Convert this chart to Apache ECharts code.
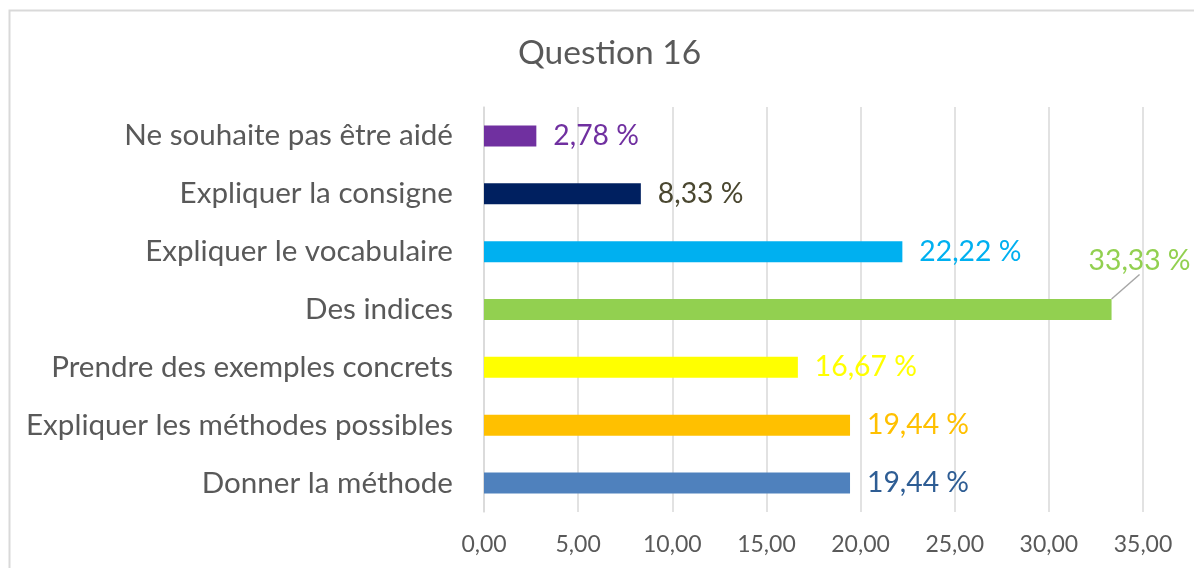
<!DOCTYPE html>
<html>
<head>
<meta charset="utf-8">
<script src="https://cdn.jsdelivr.net/npm/echarts@6/dist/echarts.min.js"></script>
<style>
html,body{margin:0;padding:0;background:#fff;}
#chart{width:1194px;height:568px;}
</style>
</head>
<body>
<div id="chart"></div>
<script>
var titleText = 'Question 16';
var categories = [
  'Ne souhaite pas être aidé',
  'Expliquer la consigne',
  'Expliquer le vocabulaire',
  'Des indices',
  'Prendre des exemples concrets',
  'Expliquer les méthodes possibles',
  'Donner la méthode'
];
var values = [2.78, 8.33, 22.22, 33.33, 16.67, 19.44, 19.44];
var barColors = ['#7030A0', '#002060', '#00B0F0', '#92D050', '#FFFF00', '#FFC000', '#4F81BD'];
var labelColors = ['#7030A0', '#4A4730', '#00B0F0', '#92D050', '#FFFF00', '#FFC000', '#2E5D94'];
var xTicks = [0, 5, 10, 15, 20, 25, 30, 35];
var movedLabelIndex = 3;

var FONT = 'Lato';
function fmt(v){ return v.toFixed(2).replace('.', ','); }

var chart = echarts.init(document.getElementById('chart'), null, {renderer: 'canvas'});
chart.setOption({
  animation: false,
  backgroundColor: '#ffffff',
  graphic: [{
    type: 'rect', left: 7, top: 8, z: -1,
    shape: {x: 0, y: 0, width: 1200, height: 600},
    style: {fill: 'none', stroke: '#d9d9d9', lineWidth: 2}
  }],
  title: {
    text: titleText, left: 513, top: 31,
    textStyle: {fontFamily: FONT, fontSize: 33.5, fontWeight: 'normal', color: '#595959'}
  },
  grid: {left: 484, right: 51, top: 107, bottom: 56, containLabel: false},
  xAxis: {
    type: 'value', min: xTicks[0], max: xTicks[xTicks.length - 1], interval: 5,
    axisLine: {show: false}, axisTick: {show: false},
    splitLine: {show: true, lineStyle: {color: '#d9d9d9', width: 1.5}},
    axisLabel: {
      margin: 21, color: '#595959', fontFamily: FONT, fontSize: 23,
      formatter: function(v){ return fmt(v); }
    }
  },
  yAxis: {
    type: 'category', data: categories, inverse: true,
    axisLine: {show: true, lineStyle: {color: '#d9d9d9', width: 1.5}},
    axisTick: {show: false},
    axisLabel: {margin: 31, color: '#595959', fontFamily: FONT, fontSize: 29.6}
  },
  series: [{
    type: 'bar',
    barWidth: 21,
    data: values.map(function(v, i){
      return {
        value: v,
        itemStyle: {color: barColors[i]},
        label: {color: labelColors[i]},
        labelLine: {show: i === movedLabelIndex, lineStyle: {color: '#a6a6a6', width: 1.5}}
      };
    }),
    label: {
      show: true, position: 'right', distance: 17,
      fontFamily: FONT, fontSize: 28.3,
      formatter: function(p){ return fmt(p.value) + ' %'; }
    },
    labelLayout: function(p){
      if (p.dataIndex === movedLabelIndex) return {dx: -40, dy: -49};
      return {};
    }
  }]
});
</script>
</body>
</html>
